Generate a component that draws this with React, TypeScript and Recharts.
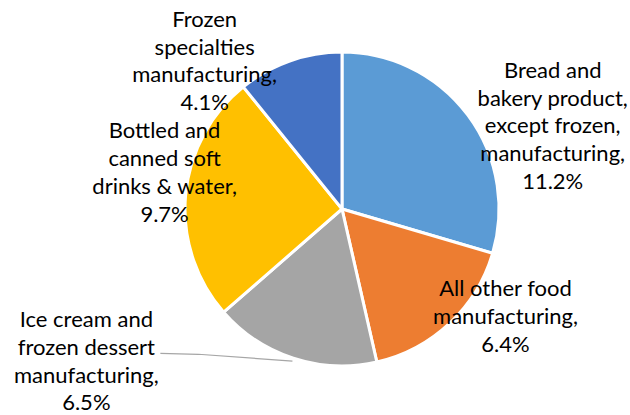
import React from 'react';
import { PieChart, Pie, Cell } from 'recharts';

const categories = [
  'Bread and\nbakery product,\nexcept frozen,\nmanufacturing,',
  'All other food\nmanufacturing,',
  'Ice cream and\nfrozen dessert\nmanufacturing,',
  'Bottled and\ncanned soft\ndrinks & water,',
  'Frozen\nspecialties\nmanufacturing,',
];
const values = [11.2, 6.4, 6.5, 9.7, 4.1];
const colors = ['#5B9BD5', '#ED7D31', '#A5A5A5', '#FFC000', '#4472C4'];

// label offsets from the slice's outer mid point
const labelOffsets = [
  { dx: 85, dy: 10 },
  { dx: 56, dy: -8 },
  { dx: -207, dy: 2 },
  { dx: -21, dy: -24 },
  { dx: -85, dy: -1 },
];

const data = categories.map((c, i) => ({ name: c, value: values[i] }));

const RAD = Math.PI / 180;
const LINE_H = 27.8;

const renderLabel = (props: any) => {
  const { cx, cy, midAngle, outerRadius, index, value } = props;
  const px = cx + outerRadius * Math.cos(-midAngle * RAD);
  const py = cy + outerRadius * Math.sin(-midAngle * RAD);
  const off = labelOffsets[index];
  const lx = px + off.dx;
  const ly = py + off.dy;
  const lines = [...categories[index].split('\n'), `${value.toFixed(1)}%`];
  const n = lines.length;
  let leader: React.ReactNode = null;
  if (index === 2) {
    const sx = cx + (outerRadius + 3) * Math.cos(-midAngle * RAD);
    const sy = cy + (outerRadius + 3) * Math.sin(-midAngle * RAD);
    leader = (
      <polyline
        points={`${sx},${sy} ${lx + 112},${ly - 6} ${lx + 74},${ly - 7}`}
        fill="none"
        stroke="#A6A6A6"
        strokeWidth={1.2}
      />
    );
  }
  return (
    <g key={`lbl-${index}`}>
      {leader}
      <text
        x={lx}
        y={ly}
        textAnchor="middle"
        fill="#000"
        fontFamily="Lato, Carlito, 'Liberation Sans', sans-serif"
        fontSize={22}
      >
        {lines.map((t, i) => (
          <tspan key={i} x={lx} y={ly + (i - (n - 1) / 2) * LINE_H} dominantBaseline="central">
            {t}
          </tspan>
        ))}
      </text>
    </g>
  );
};

export default function App() {
  return (
    <div style={{ position: 'absolute', left: 0, top: 0, width: 630, height: 415, background: '#fff' }}>
      <PieChart width={630} height={415} margin={{ top: 0, right: 0, bottom: 0, left: 0 }}>
        <Pie
          data={data}
          dataKey="value"
          cx={342}
          cy={209}
          outerRadius={157}
          startAngle={90}
          endAngle={-270}
          stroke="#fff"
          strokeWidth={3}
          label={renderLabel}
          labelLine={false}
          isAnimationActive={false}
        >
          {data.map((d, i) => (
            <Cell key={i} fill={colors[i]} />
          ))}
        </Pie>
      </PieChart>
    </div>
  );
}
